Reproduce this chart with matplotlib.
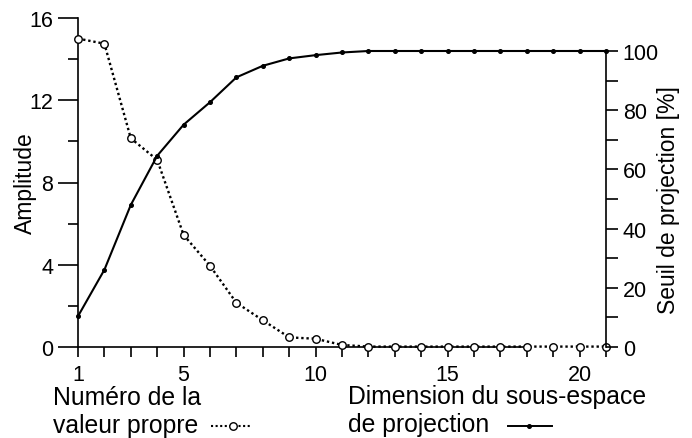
import matplotlib
matplotlib.use("Agg")
import matplotlib.pyplot as plt
from matplotlib.lines import Line2D

plt.rcParams['font.family'] = ['Liberation Sans', 'DejaVu Sans']

# eigenvalue index / subspace dimension
rang = list(range(1, 22))
# amplitude of each eigenvalue (left axis)
amplitude = [15.0, 14.75, 10.15, 9.1, 5.45, 3.95, 2.15, 1.3, 0.47, 0.4, 0.1,
             0.02, 0.02, 0.02, 0.02, 0.02, 0.02, 0.02, 0.02, 0.02, 0.02]
# projection threshold in % (right axis)
seuil = [10.4, 26.1, 48.0, 64.6, 75.1, 82.7, 91.1, 95.0, 97.5, 98.6, 99.5,
         100, 100, 100, 100, 100, 100, 100, 100, 100, 100]

W, H = 692, 439
fig = plt.figure(figsize=(W / 100, H / 100), dpi=100)
ax = fig.add_axes([78 / W, 1 - 348 / H, (606 - 78) / W, (348 - 19) / H])
ax2 = ax.twinx()

ax.plot(rang, amplitude, color='black', lw=1.7, ls=(0, (1, 1.2)),
        marker='o', ms=5.4, mfc='white', mec='black', mew=1.0, clip_on=False, zorder=3)
ax2.plot(rang, seuil, color='black', lw=1.5, ls='-',
         marker='o', ms=2.6, mfc='black', mec='black', clip_on=False, zorder=3)

ax.set_xlim(1, 21)
ax.set_ylim(0, 16)
ax2.set_ylim(0, 100 * 329 / 296)

for a in (ax, ax2):
    a.patch.set_visible(False)
    a.spines['top'].set_visible(False)
ax.spines['right'].set_visible(False)
ax2.spines['left'].set_visible(False)
ax2.spines['bottom'].set_visible(False)
ax.spines['bottom'].set_bounds(1, 18)
ax2.spines['right'].set_bounds(0, 100)
for sp in ('left', 'bottom'):
    ax.spines[sp].set_linewidth(1.2)
ax2.spines['right'].set_linewidth(1.2)

ax.set_xticks(rang, minor=False)
ax.set_xticklabels([str(v) if v in (1, 5, 10, 15, 20) else '' for v in rang])
ax.set_yticks([0, 4, 8, 12, 16])
ax.set_yticks([2, 6, 10, 14], minor=True)
ax2.set_yticks([0, 20, 40, 60, 80, 100])
ax2.set_yticks([10, 30, 50, 70, 90], minor=True)

ax.tick_params(axis='x', direction='out', length=7.5, width=1.2, pad=5, labelsize=15.5)
ax.tick_params(axis='y', which='major', direction='out', length=14.5, width=1.2, pad=3.5, labelsize=15.5)
ax.tick_params(axis='y', which='minor', direction='out', length=7.5, width=1.2)
ax2.tick_params(axis='y', which='both', direction='out', length=8.5, width=1.2, pad=3.5, labelsize=15.5)

fs = 16.5
fs_cap = 17.8
fig.text(25 / W, 1 - 183.5 / H, 'Amplitude', rotation=90, ha='center', va='center', fontsize=fs)
fig.text(668 / W, 1 - 200 / H, 'Seuil de projection [%]', rotation=90, ha='center', va='center', fontsize=fs)

fig.text(53 / W, 1 - 405 / H, 'Numéro de la', ha='left', va='baseline', fontsize=fs_cap)
fig.text(53 / W, 1 - 433 / H, 'valeur propre', ha='left', va='baseline', fontsize=fs_cap)
fig.text(348 / W, 1 - 404 / H, 'Dimension du sous-espace', ha='left', va='baseline', fontsize=fs_cap)
fig.text(348 / W, 1 - 432 / H, 'de projection', ha='left', va='baseline', fontsize=fs_cap)

# legend samples next to the captions
fig.add_artist(Line2D([211 / W, 252 / W], [1 - 427 / H] * 2, transform=fig.transFigure,
                      color='black', lw=1.5, ls=(0, (1, 1.2))))
fig.add_artist(Line2D([233 / W], [1 - 427 / H], transform=fig.transFigure, marker='o',
                      ms=5.4, mfc='white', mec='black', mew=1.0, ls='none'))
fig.add_artist(Line2D([508 / W, 552 / W], [1 - 427 / H] * 2, transform=fig.transFigure,
                      color='black', lw=1.4, marker='', ls='-'))
fig.add_artist(Line2D([529 / W], [1 - 427 / H], transform=fig.transFigure, marker='o',
                      ms=2.6, mfc='black', mec='black', ls='none'))

fig.savefig('out.png', dpi=100)
